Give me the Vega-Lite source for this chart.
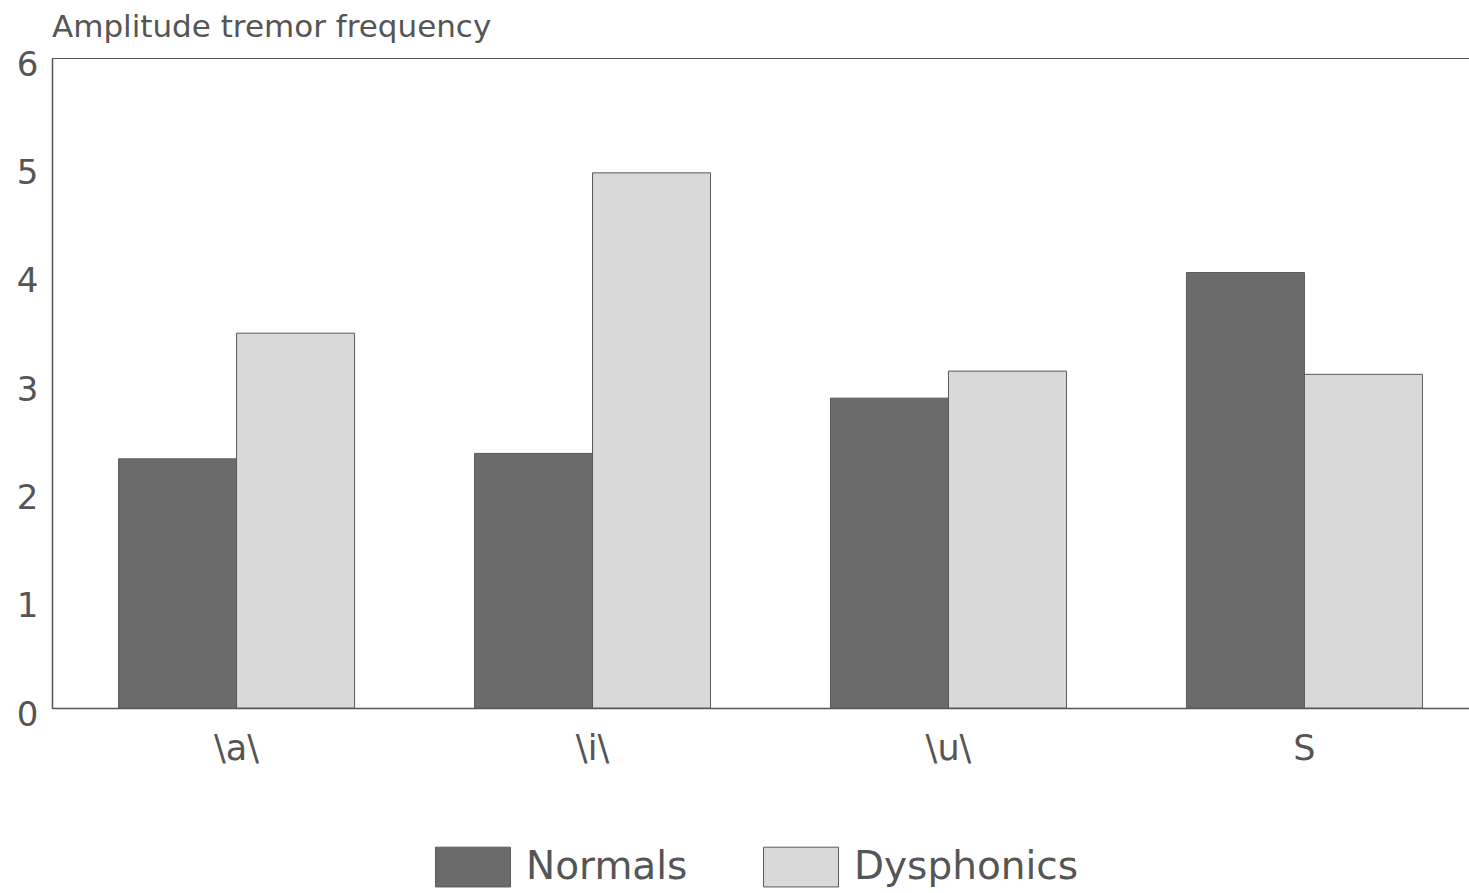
{
  "$schema": "https://vega.github.io/schema/vega-lite/v6.json",
  "autosize": "none",
  "padding": {"left": 52, "top": 58, "right": 0, "bottom": 185},
  "width": 1437,
  "height": 650,
  "background": "white",
  "title": {
    "text": "Amplitude tremor frequency",
    "anchor": "start",
    "frame": "group",
    "offset": 4,
    "font": "DejaVu Sans",
    "fontSize": 31,
    "fontWeight": "normal",
    "color": "#555555"
  },
  "data": {
    "values": [
      {"sound": "\\a\\", "group": "Normals", "value": 2.3},
      {"sound": "\\a\\", "group": "Dysphonics", "value": 3.46},
      {"sound": "\\i\\", "group": "Normals", "value": 2.35},
      {"sound": "\\i\\", "group": "Dysphonics", "value": 4.94},
      {"sound": "\\u\\", "group": "Normals", "value": 2.86},
      {"sound": "\\u\\", "group": "Dysphonics", "value": 3.11},
      {"sound": "S", "group": "Normals", "value": 4.02},
      {"sound": "S", "group": "Dysphonics", "value": 3.08}
    ]
  },
  "mark": {"type": "bar", "stroke": "#5a5a5a", "strokeWidth": 1},
  "encoding": {
    "x": {
      "field": "sound",
      "type": "nominal",
      "sort": ["\\a\\", "\\i\\", "\\u\\", "S"],
      "scale": {"paddingInner": 0.337, "paddingOuter": 0.187},
      "axis": {
        "title": null,
        "labelAngle": 0,
        "ticks": false,
        "labelPadding": 23,
        "labelFont": "DejaVu Sans",
        "labelFontSize": 35,
        "labelColor": "#555555",
        "domainColor": "#555555",
        "domainWidth": 1.5
      }
    },
    "xOffset": {
      "field": "group",
      "type": "nominal",
      "sort": ["Normals", "Dysphonics"],
      "scale": {"paddingInner": 0, "paddingOuter": 0}
    },
    "y": {
      "field": "value",
      "type": "quantitative",
      "scale": {"domain": [0, 6], "nice": false},
      "axis": {
        "title": null,
        "grid": false,
        "ticks": false,
        "tickCount": 6,
        "labelPadding": 14,
        "labelOffset": 7,
        "labelFont": "DejaVu Sans",
        "labelFontSize": 34,
        "labelColor": "#555555",
        "domainColor": "#555555",
        "domainWidth": 1.5
      }
    },
    "color": {
      "field": "group",
      "type": "nominal",
      "sort": ["Normals", "Dysphonics"],
      "scale": {"domain": ["Normals", "Dysphonics"], "range": ["#6b6b6b", "#d9d9d9"]},
      "legend": {
        "title": null,
        "orient": "none",
        "direction": "horizontal",
        "legendX": 383,
        "legendY": 771,
        "padding": 0,
        "symbolType": "M-1,-0.53H1V0.53H-1Z",
        "symbolSize": 5625,
        "symbolStrokeColor": "#5a5a5a",
        "symbolStrokeWidth": 1,
        "symbolOpacity": 1,
        "labelOffset": 15,
        "columnPadding": 73,
        "labelLimit": 400,
        "labelFont": "DejaVu Sans",
        "labelFontSize": 39,
        "labelColor": "#555555"
      }
    }
  },
  "config": {
    "view": {"stroke": "#555555", "strokeWidth": 1}
  }
}
